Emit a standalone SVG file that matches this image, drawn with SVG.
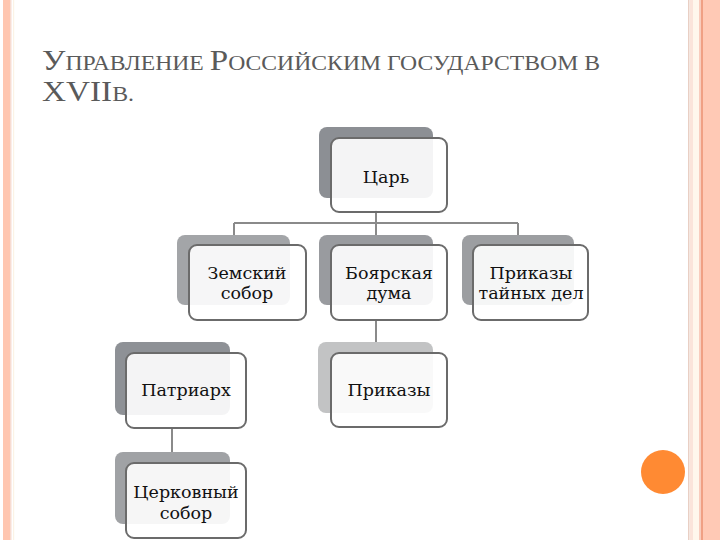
<svg xmlns="http://www.w3.org/2000/svg" width="720" height="540" viewBox="0 0 720 540">
<style>
.back{stroke:none}
.front{fill:#ffffff;fill-opacity:0.9;stroke:#6b6b6b;stroke-width:2}
.lbl{font-family:"DejaVu Serif","Liberation Serif",serif;font-size:17.5px;fill:#111;text-anchor:middle}
.title{font-family:"Liberation Serif","DejaVu Serif",serif;fill:#5a5a5a}
.big{font-size:30px}
.sm{font-size:21.5px}
.conn{stroke:#8a8a8a;stroke-width:2;fill:none}
</style>
<rect width="720" height="540" fill="#ffffff"/>
<g id="borders">
<rect x="3" y="0" width="7" height="540" fill="#FFC6B0"/>
<rect x="10" y="0" width="1.5" height="540" fill="#F7DCD2"/>
<rect x="13" y="0" width="1.2" height="540" fill="#FBF3E6"/>
<rect x="688" y="0" width="1.5" height="540" fill="#E9CFC4"/>
<rect x="690" y="0" width="3" height="540" fill="#FBE4DA"/>
<rect x="693" y="0" width="6" height="540" fill="#FFF7EC"/>
<rect x="699" y="0" width="2" height="540" fill="#F9CDBE"/>
<rect x="701" y="0" width="2" height="540" fill="#F0A084"/>
<rect x="703" y="0" width="17" height="540" fill="#FFC9B5"/>
</g>
<g id="title" class="title">
<text x="42" y="70" textLength="558" lengthAdjust="spacingAndGlyphs"><tspan class="big">У</tspan><tspan class="sm">ПРАВЛЕНИЕ </tspan><tspan class="big">Р</tspan><tspan class="sm">ОССИЙСКИМ ГОСУДАРСТВОМ В</tspan></text>
<text x="42" y="101" textLength="92" lengthAdjust="spacingAndGlyphs"><tspan class="big">XVII</tspan><tspan class="sm">В.</tspan></text>
</g>
<g id="connectors">
<path class="conn" d="M376 210 V223 M234 223 H518 M234 223 V237 M376 223 V237 M518 223 V237"/>
<path class="conn" d="M376 320 V344"/>
<path class="conn" d="M172 428 V454"/>
</g>
<g id="tsar">
<rect class="back" x="319" y="127" width="114" height="71" rx="8" fill="#8c8f94"/>
<rect class="front" x="331" y="138" width="116" height="74" rx="8"/>
<text class="lbl" x="386" y="183">Царь</text>
</g>
<g id="zemsky">
<rect class="back" x="177" y="235" width="113" height="70" rx="8" fill="#a3a5a8"/>
<rect class="front" x="189" y="245" width="117" height="75" rx="8"/>
<text class="lbl" x="247" y="279">Земский</text>
<text class="lbl" x="247" y="299">собор</text>
</g>
<g id="duma">
<rect class="back" x="319" y="235" width="114" height="70" rx="8" fill="#999b9f"/>
<rect class="front" x="331" y="245" width="116" height="75" rx="8"/>
<text class="lbl" x="389" y="279">Боярская</text>
<text class="lbl" x="389" y="299">дума</text>
</g>
<g id="secret">
<rect class="back" x="462" y="235" width="112" height="70" rx="8" fill="#9c9ea1"/>
<rect class="front" x="473" y="245" width="115" height="75" rx="8"/>
<text class="lbl" x="531" y="279">Приказы</text>
<text class="lbl" x="531" y="299">тайных дел</text>
</g>
<g id="prikazy">
<rect class="back" x="318" y="342" width="115" height="71" rx="8" fill="#c2c3c4"/>
<rect class="front" x="331" y="353" width="116" height="74" rx="8"/>
<text class="lbl" x="389" y="396">Приказы</text>
</g>
<g id="patriarch">
<rect class="back" x="115" y="342" width="115" height="73" rx="8" fill="#8e9196"/>
<rect class="front" x="126" y="353" width="120" height="75" rx="8"/>
<text class="lbl" x="186" y="396">Патриарх</text>
</g>
<g id="church">
<rect class="back" x="115" y="452" width="115" height="72" rx="8" fill="#a0a2a5"/>
<rect class="front" x="126" y="463" width="120" height="75" rx="8"/>
<text class="lbl" x="186" y="498">Церковный</text>
<text class="lbl" x="186" y="519">собор</text>
</g>
<circle cx="663" cy="472" r="22" fill="#FF8A33"/>
</svg>
